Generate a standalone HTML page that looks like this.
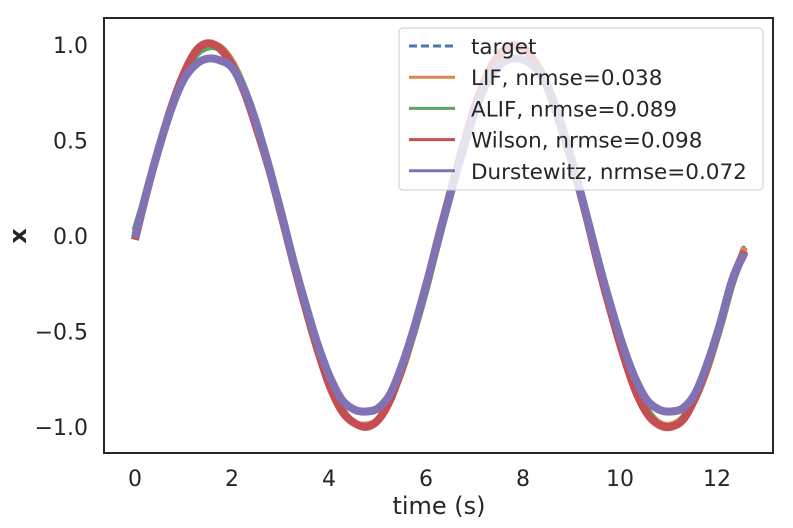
<!DOCTYPE html>
<html><head><meta charset="utf-8"><style>
body{margin:0;background:#fff;font-family:"DejaVu Sans","Liberation Sans",sans-serif;}
svg text{fill:#262626;font-family:"DejaVu Sans","Liberation Sans",sans-serif;}
</style></head><body>
<svg id="chart" width="793" height="524" xmlns="http://www.w3.org/2000/svg"></svg>
<script>
const times = [0,0.251,0.503,0.754,1.005,1.257,1.508,1.759,2.011,2.262,2.513,2.765,3.016,3.267,3.519,3.770,4.021,4.273,4.524,4.775,5.027,5.278,5.529,5.781,6.032,6.283,6.535,6.786,7.037,7.288,7.540,7.791,8.042,8.294,8.545,8.796,9.048,9.299,9.550,9.802,10.053,10.304,10.556,10.807,11.058,11.310,11.561,11.812,12.064,12.315,12.566];
const target = [0,0.249,0.482,0.685,0.844,0.951,0.998,0.982,0.905,0.771,0.588,0.368,0.125,-0.125,-0.368,-0.588,-0.771,-0.905,-0.982,-0.998,-0.951,-0.844,-0.685,-0.482,-0.249,0,0.249,0.482,0.685,0.844,0.951,0.998,0.982,0.905,0.771,0.588,0.368,0.125,-0.125,-0.368,-0.588,-0.771,-0.905,-0.982,-0.998,-0.951,-0.844,-0.685,-0.482,-0.249,-0.05];
const lif = [0.01,0.25,0.47,0.68,0.85,0.96,1.00,0.99,0.91,0.77,0.58,0.37,0.12,-0.13,-0.37,-0.59,-0.78,-0.91,-0.98,-0.99,-0.96,-0.85,-0.69,-0.48,-0.25,0.0,0.25,0.48,0.68,0.85,0.95,0.99,0.98,0.90,0.77,0.59,0.37,0.12,-0.13,-0.37,-0.59,-0.78,-0.91,-0.98,-0.99,-0.95,-0.85,-0.69,-0.48,-0.25,-0.06];
const alif = [0.03,0.24,0.48,0.68,0.84,0.95,0.99,0.98,0.90,0.77,0.59,0.36,0.13,-0.13,-0.37,-0.59,-0.78,-0.91,-0.98,-1.00,-0.96,-0.84,-0.68,-0.48,-0.25,0.01,0.24,0.48,0.69,0.84,0.95,0.99,0.97,0.90,0.77,0.58,0.37,0.12,-0.12,-0.37,-0.59,-0.78,-0.91,-0.99,-1.00,-0.95,-0.84,-0.68,-0.48,-0.25,-0.08];
const wilson = [-0.02,0.24,0.47,0.68,0.85,0.97,1.01,0.98,0.89,0.75,0.56,0.35,0.11,-0.14,-0.38,-0.60,-0.79,-0.92,-0.98,-1.00,-0.96,-0.85,-0.67,-0.46,-0.23,0.02,0.26,0.49,0.70,0.86,0.96,1.00,0.98,0.89,0.75,0.56,0.35,0.11,-0.15,-0.39,-0.61,-0.80,-0.93,-0.99,-1.00,-0.96,-0.84,-0.67,-0.46,-0.23,-0.08];
const durst = [-0.01,0.24,0.47,0.67,0.82,0.90,0.93,0.92,0.88,0.76,0.58,0.36,0.12,-0.13,-0.36,-0.57,-0.74,-0.86,-0.91,-0.92,-0.90,-0.82,-0.66,-0.46,-0.23,0.01,0.25,0.47,0.67,0.82,0.90,0.93,0.92,0.87,0.76,0.58,0.36,0.12,-0.13,-0.36,-0.57,-0.74,-0.86,-0.91,-0.92,-0.90,-0.82,-0.66,-0.46,-0.23,-0.09];
const xTicks = [0,2,4,6,8,10,12];
const yTicks = [1.0,0.5,0.0,-0.5,-1.0];
const yTickLabels = ["1.0","0.5","0.0","\u22120.5","\u22121.0"];
const legendLabels = ["target","LIF, nrmse=0.038","ALIF, nrmse=0.089","Wilson, nrmse=0.098","Durstewitz, nrmse=0.072"];

const NS="http://www.w3.org/2000/svg";
const svg=document.getElementById('chart');
const X=v=>135+v*48.5;
const Y=v=>236-v*190.8;
function mk(tag,attrs,parent){const e=document.createElementNS(NS,tag);for(const k in attrs)e.setAttribute(k,attrs[k]);(parent||svg).appendChild(e);return e;}
function smooth(ys){
  const P=ys.map((v,i)=>[X(times[i]),Y(v)]);
  let d='M'+P[0][0].toFixed(1)+','+P[0][1].toFixed(1);
  for(let i=0;i<P.length-1;i++){
    const p0=P[Math.max(0,i-1)],p1=P[i],p2=P[i+1],p3=P[Math.min(P.length-1,i+2)];
    const c1=[p1[0]+(p2[0]-p0[0])/6,p1[1]+(p2[1]-p0[1])/6];
    const c2=[p2[0]-(p3[0]-p1[0])/6,p2[1]-(p3[1]-p1[1])/6];
    d+='C'+c1.map(v=>v.toFixed(1)).join(',')+' '+c2.map(v=>v.toFixed(1)).join(',')+' '+p2.map(v=>v.toFixed(1)).join(',');
  }
  return d;
}
const series=[[lif,'#dd8452',7],[alif,'#55a868',7],[wilson,'#c44e52',8],[durst,'#8172b3',8]];
const names=['series-lif','series-alif','series-wilson','series-durstewitz'];
const tg=mk('path',{d:smooth(target),fill:'none',stroke:'#4c72b0','stroke-width':3,'stroke-dasharray':'8,4'});


series.forEach((s,i)=>{
  const p=mk('path',{d:smooth(s[0]),fill:'none',stroke:s[1],'stroke-width':s[2],'stroke-linejoin':'round'});
  
  
});
const frame=mk('rect',{x:104,y:18,width:669,height:435,fill:'none',stroke:'#262626','stroke-width':2});


xTicks.forEach(t=>{
  const tx=mk('text',{x:X(t),y:486,'font-size':22,'text-anchor':'middle'});tx.textContent=t;
  
  
});
yTicks.forEach((t,i)=>{
  const tx=mk('text',{x:88,y:Y(t)+8,'font-size':22,'text-anchor':'end'});tx.textContent=yTickLabels[i];
  
  
});
const xl=mk('text',{x:439,y:514,'font-size':24,'text-anchor':'middle'});xl.textContent='time (s)';


const yl=mk('text',{x:0,y:0,'font-size':24,'font-weight':'bold','text-anchor':'middle',transform:'translate(26,236) rotate(-90)'});yl.textContent='x';


const lg=mk('g',{});


mk('rect',{x:399,y:28,width:364,height:162,rx:4,fill:'#fff','fill-opacity':0.8,stroke:'#cccccc','stroke-width':1},lg);
const colors=['#4c72b0','#dd8452','#55a868','#c44e52','#8172b3'];
legendLabels.forEach((l,i)=>{
  const y=46+i*31.2;
  const ln=mk('line',{x1:409,x2:455,y1:y,y2:y,stroke:colors[i],'stroke-width':3,'stroke-dasharray':i==0?'8,4':''},lg);
  
  
  const t=mk('text',{x:471,y:y+8,'font-size':21.5},lg);t.textContent=l;
  
  
});
</script>
</body></html>
